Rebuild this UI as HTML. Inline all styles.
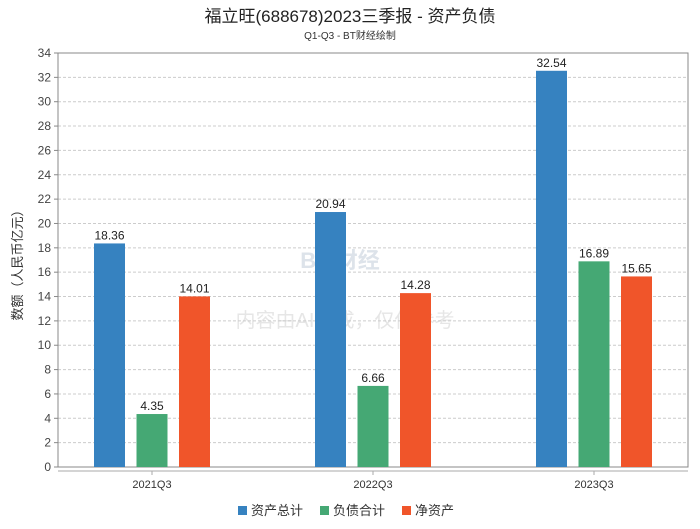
<!DOCTYPE html>
<html><head><meta charset="utf-8"><style>
body{margin:0;background:#fff;}
svg text{font-family:"Liberation Sans","Noto Sans CJK SC",sans-serif;}
</style></head><body>
<svg id="c" width="700" height="524" xmlns="http://www.w3.org/2000/svg">
<text x="350" y="22" text-anchor="middle" font-size="17" fill="#222">福立旺(688678)2023三季报 - 资产负债</text>
<text x="350" y="39" text-anchor="middle" font-size="10" fill="#333">Q1-Q3 - BT财经绘制</text>
<text x="340" y="268" text-anchor="middle" font-size="22" fill="#dde3ea" font-weight="bold">BT 财经</text>
<text x="345" y="327" text-anchor="middle" font-size="20" fill="#e6e6e6">内容由AI生成，仅供参考</text>
<text transform="translate(22,262) rotate(-90)" text-anchor="middle" font-size="13" fill="#333">数额（人民币亿元）</text>
<g id="grid"></g><g id="bars"></g><g id="xl"></g>
<g>
<rect x="238" y="506" width="9" height="9" fill="#3682c0"/>
<text x="251" y="515" font-size="13" fill="#333">资产总计</text>
<rect x="320" y="506" width="9" height="9" fill="#45a874"/>
<text x="333" y="515" font-size="13" fill="#333">负债合计</text>
<rect x="402" y="506" width="9" height="9" fill="#f0552a"/>
<text x="415" y="515" font-size="13" fill="#333">净资产</text>
</g>
</svg>
<script>
const categories=["2021Q3","2022Q3","2023Q3"];
const assets=[18.36,20.94,32.54];
const liabilities=[4.35,6.66,16.89];
const equity=[14.01,14.28,15.65];
const yTicks=[0,2,4,6,8,10,12,14,16,18,20,22,24,26,28,30,32,34];
const NS="http://www.w3.org/2000/svg";
const L=58,R=688,T=53,B=467,yMax=34;
const y=v=>B-(v/yMax)*(B-T);
const step=221,pad=94;
const xc=i=>L+pad+step*i;
function mk(t,a,p){const e=document.createElementNS(NS,t);for(const k in a)e.setAttribute(k,a[k]);p.appendChild(e);return e;}
const g=document.getElementById('grid');
yTicks.forEach(v=>{
 if(v>0){const l=mk('line',{x1:L,x2:R,y1:y(v),y2:y(v),stroke:'#ccc','stroke-dasharray':'3,2'},g);
 
 }
 mk('line',{x1:L-4,x2:L,y1:y(v),y2:y(v),stroke:'#888'},g);
 const t=mk('text',{x:L-7,y:y(v)+4,'text-anchor':'end','font-size':12,fill:'#444'},g);t.textContent=v;
 
 
});
const fr=mk('rect',{x:L,y:T,width:R-L,height:B-T,fill:'none',stroke:'#888'},g);


mk('line',{x1:L,x2:R,y1:B+4,y2:B+4,stroke:'#aaa'},g);
const series=[[assets,'#3682c0','assets'],[liabilities,'#45a874','liabilities'],[equity,'#f0552a','equity']];
const bg=document.getElementById('bars'),xl=document.getElementById('xl');
categories.forEach((c,i)=>{
 series.forEach((s,j)=>{
  const x=xc(i)+(j-1)*42.5-15.5,v=s[0][i];
  const r=mk('rect',{x:x,y:y(v),width:31,height:B-y(v),fill:s[1]},bg);
  
  
  const t=mk('text',{x:x+15.5,y:y(v)-4,'text-anchor':'middle','font-size':12,fill:'#222'},bg);t.textContent=v.toFixed(2);
  
  
 });
 mk('line',{x1:xc(i),x2:xc(i),y1:B+4,y2:B+8,stroke:'#aaa'},xl);
 const t=mk('text',{x:xc(i),y:B+21,'text-anchor':'middle','font-size':11,fill:'#333'},xl);t.textContent=c;
 
 
});
</script>
</body></html>
